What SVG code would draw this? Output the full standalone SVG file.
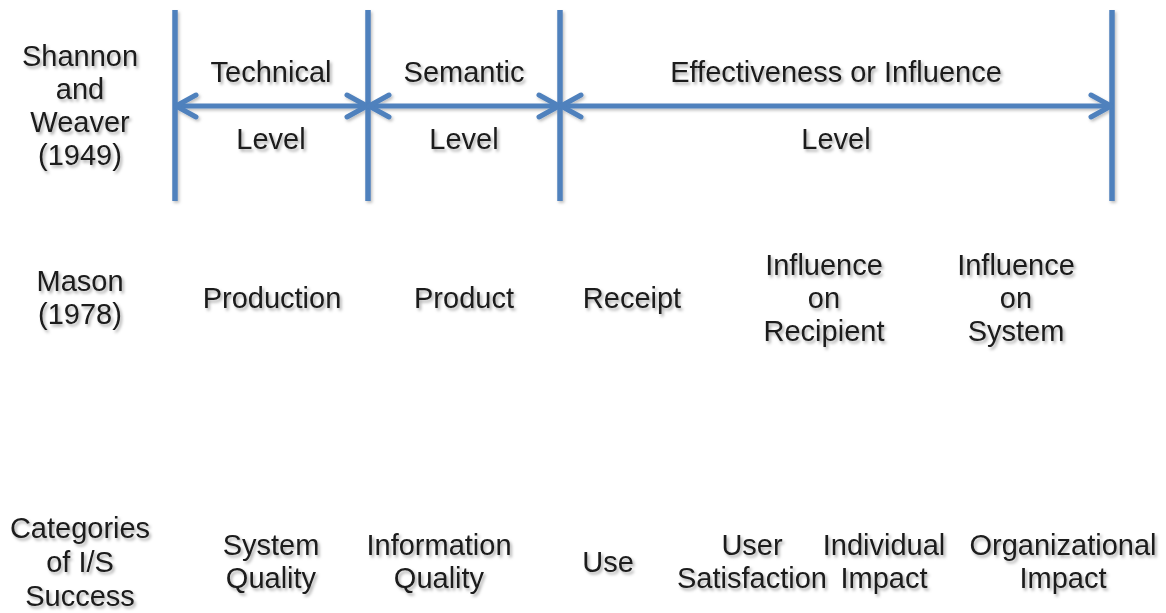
<svg xmlns="http://www.w3.org/2000/svg" width="1166" height="613" viewBox="0 0 1166 613">
  <style>
    text { font-family: "Liberation Sans", Arial, sans-serif; font-size: 29px; fill: #1a1a1a; text-anchor: middle; filter: url(#sh); }
    .bar { stroke: #4F81BD; stroke-width: 5.5; fill: none; }
    .arr { stroke: #4F81BD; stroke-width: 5; fill: none; marker-start: url(#chev); marker-end: url(#chev); }
  </style>
  <defs>
    <filter id="sh" x="-20%" y="-40%" width="140%" height="180%">
      <feDropShadow dx="2" dy="2.5" stdDeviation="1.6" flood-color="#000" flood-opacity="0.32"/>
    </filter>
    <filter id="shl" filterUnits="userSpaceOnUse" x="0" y="0" width="1166" height="613">
      <feDropShadow dx="1.5" dy="2" stdDeviation="1.5" flood-color="#000" flood-opacity="0.25"/>
    </filter>
    <marker id="chev" viewBox="-26 -16 30 32" markerWidth="30" markerHeight="32" refX="0" refY="0" orient="auto-start-reverse" markerUnits="userSpaceOnUse">
      <path d="M -20 -11 L 0 0 L -20 11" stroke="#4F81BD" stroke-width="5" fill="none" stroke-linecap="round" stroke-linejoin="round"/>
    </marker>
  </defs>
  <rect width="1166" height="613" fill="#ffffff"/>

  <g id="connectors" filter="url(#shl)">
    <line class="bar" x1="175" y1="10" x2="175" y2="201"/>
    <line class="bar" x1="368" y1="10" x2="368" y2="201"/>
    <line class="bar" x1="560" y1="10" x2="560" y2="201"/>
    <line class="bar" x1="1112" y1="10" x2="1112" y2="201"/>
    <line class="arr" x1="176" y1="106" x2="367" y2="106"/>
    <line class="arr" x1="369" y1="106" x2="559" y2="106"/>
    <line class="arr" x1="561" y1="106" x2="1111" y2="106"/>
  </g>

  <g id="shannon-weaver">
    <text x="80" y="66">Shannon</text>
    <text x="80" y="99">and</text>
    <text x="80" y="132">Weaver</text>
    <text x="80" y="165">(1949)</text>
  </g>
  <g id="technical-level">
    <text x="271" y="82">Technical</text>
    <text x="271" y="149">Level</text>
  </g>
  <g id="semantic-level">
    <text x="464" y="82">Semantic</text>
    <text x="464" y="149">Level</text>
  </g>
  <g id="effectiveness-level">
    <text x="836" y="82">Effectiveness or Influence</text>
    <text x="836" y="149">Level</text>
  </g>

  <g id="mason">
    <text x="80" y="291">Mason</text>
    <text x="80" y="324">(1978)</text>
  </g>
  <g id="production"><text x="272" y="308">Production</text></g>
  <g id="product"><text x="464" y="308">Product</text></g>
  <g id="receipt"><text x="632" y="308">Receipt</text></g>
  <g id="influence-recipient">
    <text x="824" y="275">Influence</text>
    <text x="824" y="308">on</text>
    <text x="824" y="341">Recipient</text>
  </g>
  <g id="influence-system">
    <text x="1016" y="275">Influence</text>
    <text x="1016" y="308">on</text>
    <text x="1016" y="341">System</text>
  </g>

  <g id="categories">
    <text x="80" y="538">Categories</text>
    <text x="80" y="572">of I/S</text>
    <text x="80" y="606">Success</text>
  </g>
  <g id="system-quality">
    <text x="271" y="555">System</text>
    <text x="271" y="588">Quality</text>
  </g>
  <g id="information-quality">
    <text x="439" y="555">Information</text>
    <text x="439" y="588">Quality</text>
  </g>
  <g id="use"><text x="608" y="572">Use</text></g>
  <g id="user-satisfaction">
    <text x="752" y="555">User</text>
    <text x="752" y="588">Satisfaction</text>
  </g>
  <g id="individual-impact">
    <text x="884" y="555">Individual</text>
    <text x="884" y="588">Impact</text>
  </g>
  <g id="organizational-impact">
    <text x="1063" y="555">Organizational</text>
    <text x="1063" y="588">Impact</text>
  </g>
</svg>
